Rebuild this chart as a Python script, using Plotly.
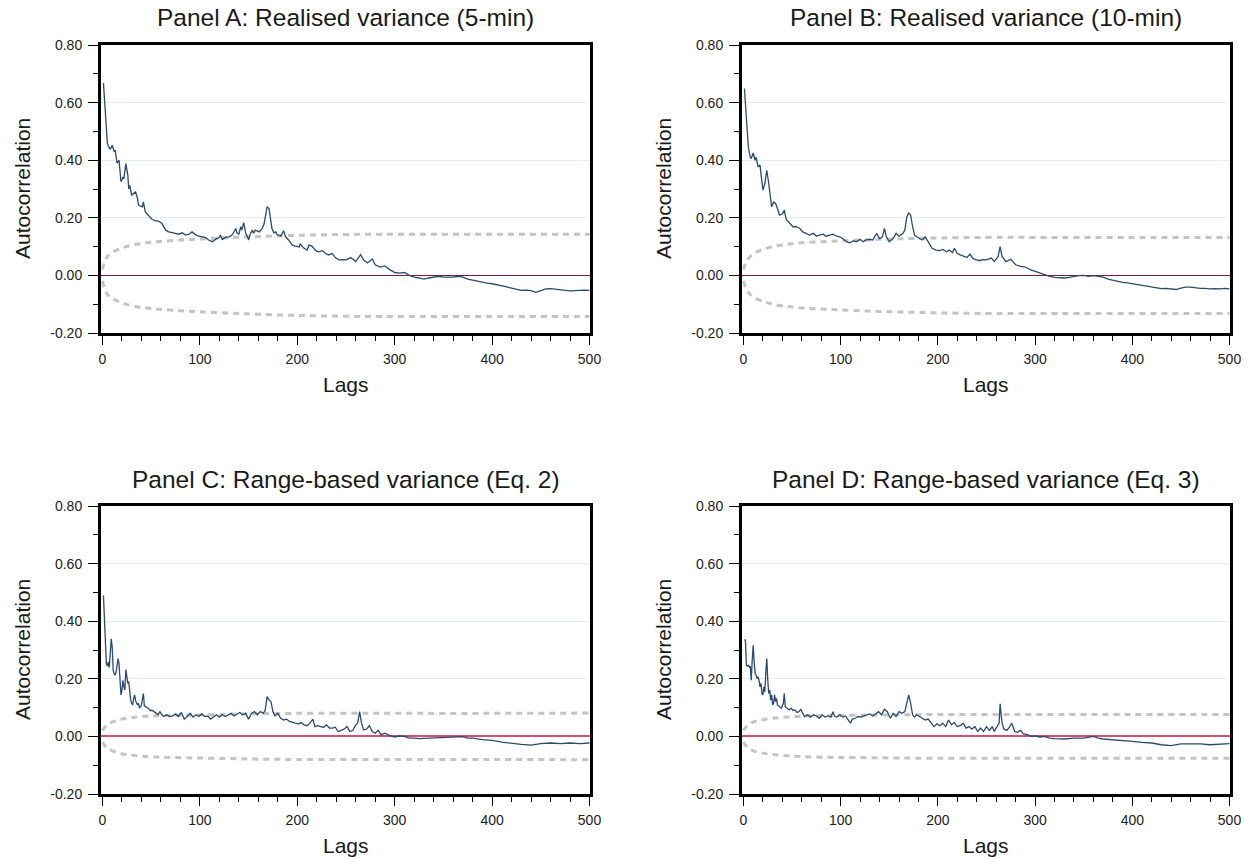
import plotly.graph_objects as go

# ---------------- data ----------------
lags_a = [1, 3, 5, 6, 8, 10, 12, 13, 15, 17, 18, 19, 21, 22, 24, 26, 27, 28, 30, 32, 34, 36, 37, 41, 42, 44,
          48, 51, 54, 58, 61, 65, 68, 72, 75, 78, 82, 85, 89, 92, 96, 99, 102, 106, 109, 113, 116, 120, 121,
          123, 126, 130, 133, 137, 138, 140, 142, 143, 145, 147, 149, 150, 152, 154, 155, 157, 161, 164, 166,
          167, 169, 171, 173, 174, 176, 178, 179, 183, 186, 188, 191, 195, 198, 202, 203, 207, 210, 212, 215,
          219, 222, 226, 229, 232, 236, 239, 243, 246, 250, 253, 255, 260, 265, 268, 272, 277, 280, 285, 290,
          295, 300, 305, 310, 315, 320, 325, 330, 335, 340, 345, 350, 355, 360, 365, 370, 375, 380, 385, 390,
          395, 400, 405, 410, 415, 420, 425, 430, 435, 440, 445, 450, 455, 460, 465, 470, 475, 480, 485, 490,
          495, 500]
acf_a = [0.668, 0.57, 0.46, 0.45, 0.437, 0.452, 0.43, 0.435, 0.39, 0.40, 0.365, 0.325, 0.34, 0.336, 0.388,
         0.348, 0.30, 0.313, 0.279, 0.284, 0.29, 0.267, 0.244, 0.238, 0.255, 0.22, 0.203, 0.194, 0.19, 0.188,
         0.18, 0.157, 0.151, 0.149, 0.146, 0.143, 0.148, 0.14, 0.143, 0.151, 0.14, 0.136, 0.134, 0.131, 0.123,
         0.117, 0.125, 0.132, 0.14, 0.125, 0.132, 0.134, 0.14, 0.163, 0.148, 0.143, 0.169, 0.157, 0.183, 0.146,
         0.134, 0.123, 0.146, 0.157, 0.146, 0.157, 0.151, 0.163, 0.18, 0.203, 0.238, 0.232, 0.192, 0.163,
         0.148, 0.151, 0.143, 0.136, 0.155, 0.134, 0.123, 0.105, 0.102, 0.099, 0.109, 0.094, 0.088, 0.105,
         0.102, 0.086, 0.082, 0.086, 0.076, 0.071, 0.076, 0.062, 0.053, 0.055, 0.054, 0.06, 0.062, 0.048,
         0.072, 0.054, 0.043, 0.057, 0.037, 0.029, 0.033, 0.020, 0.010, 0.008, 0.010, 0.0, -0.006, -0.009,
         -0.013, -0.009, -0.006, -0.003, -0.006, -0.007, -0.006, -0.003, -0.006, -0.013, -0.017, -0.021,
         -0.024, -0.027, -0.029, -0.032, -0.036, -0.040, -0.044, -0.047, -0.052, -0.051, -0.053, -0.059,
         -0.052, -0.047, -0.046, -0.048, -0.050, -0.052, -0.054, -0.053, -0.051, -0.051, -0.052]

lags_b = [1, 3, 5, 7, 8, 10, 12, 13, 15, 17, 18, 20, 22, 24, 26, 27, 29, 31, 33, 35, 37, 40, 42, 44, 48, 51,
          54, 58, 61, 65, 68, 72, 75, 78, 82, 85, 89, 92, 96, 99, 102, 106, 109, 113, 116, 120, 123, 126, 130,
          133, 137, 140, 143, 145, 147, 150, 154, 157, 160, 164, 166, 168, 170, 172, 174, 176, 178, 181, 184,
          187, 190, 194, 198, 202, 205, 209, 212, 215, 217, 220, 223, 226, 230, 233, 236, 239, 243, 246, 250,
          255, 258, 262, 264, 266, 270, 275, 280, 285, 290, 295, 300, 305, 310, 315, 320, 325, 330, 335, 340,
          345, 350, 355, 360, 365, 370, 375, 380, 385, 390, 395, 400, 405, 410, 415, 420, 425, 430, 435, 440,
          445, 450, 455, 460, 465, 470, 475, 480, 485, 490, 495, 500]
acf_b = [0.649, 0.55, 0.446, 0.41, 0.406, 0.425, 0.40, 0.41, 0.377, 0.383, 0.354, 0.296, 0.319, 0.365, 0.319,
         0.284, 0.238, 0.255, 0.25, 0.232, 0.209, 0.213, 0.227, 0.194, 0.18, 0.169, 0.169, 0.163, 0.151,
         0.146, 0.140, 0.146, 0.136, 0.140, 0.143, 0.136, 0.140, 0.143, 0.136, 0.134, 0.128, 0.117, 0.113,
         0.12, 0.117, 0.125, 0.117, 0.123, 0.125, 0.123, 0.146, 0.128, 0.134, 0.163, 0.134, 0.117, 0.128,
         0.146, 0.136, 0.146, 0.157, 0.203, 0.217, 0.209, 0.169, 0.140, 0.134, 0.128, 0.123, 0.134, 0.117,
         0.094, 0.088, 0.086, 0.090, 0.082, 0.088, 0.079, 0.094, 0.076, 0.071, 0.067, 0.062, 0.074, 0.059,
         0.055, 0.051, 0.055, 0.054, 0.06, 0.048, 0.066, 0.10, 0.066, 0.048, 0.056, 0.037, 0.031, 0.029,
         0.020, 0.014, 0.008, 0.002, -0.003, -0.007, -0.009, -0.009, -0.007, -0.003, -0.001, 0.0, -0.003,
         -0.001, -0.003, -0.006, -0.013, -0.017, -0.021, -0.024, -0.026, -0.029, -0.032, -0.036, -0.038,
         -0.040, -0.044, -0.046, -0.045, -0.047, -0.049, -0.044, -0.041, -0.041, -0.044, -0.045, -0.045,
         -0.047, -0.046, -0.047, -0.045, -0.047]

lags_c = [1, 2, 3, 4, 5, 6, 7, 8, 9, 10, 11, 12, 13, 14, 15, 16, 17, 18, 19, 20, 21, 22, 23, 24, 25, 26, 27,
          28, 29, 30, 31, 32, 33, 34, 35, 36, 37, 38, 40, 42, 43, 45, 47, 49, 51, 53, 55, 57, 59, 61, 63, 66,
          69, 72, 75, 78, 81, 84, 87, 90, 93, 96, 99, 102, 105, 108, 111, 114, 117, 120, 123, 126, 129, 132,
          135, 138, 141, 144, 147, 150, 153, 156, 159, 162, 165, 167, 169, 171, 173, 175, 177, 180, 183, 186,
          189, 192, 195, 198, 201, 204, 207, 210, 213, 216, 218, 221, 224, 227, 230, 233, 236, 239, 242, 245,
          248, 251, 254, 257, 260, 262, 264, 266, 268, 271, 274, 277, 280, 283, 286, 290, 295, 300, 305, 310,
          315, 320, 325, 330, 340, 350, 360, 370, 375, 380, 390, 400, 410, 420, 430, 440, 450, 460, 470, 480,
          490, 500]
acf_c = [0.489, 0.414, 0.333, 0.253, 0.244, 0.259, 0.239, 0.276, 0.339, 0.31, 0.23, 0.218, 0.213, 0.224,
         0.241, 0.27, 0.253, 0.207, 0.144, 0.161, 0.195, 0.172, 0.161, 0.232, 0.207, 0.184, 0.19, 0.149,
         0.126, 0.115, 0.109, 0.132, 0.144, 0.124, 0.117, 0.109, 0.115, 0.098, 0.109, 0.149, 0.106, 0.103,
         0.098, 0.09, 0.09, 0.086, 0.08, 0.075, 0.086, 0.075, 0.069, 0.075, 0.069, 0.071, 0.078, 0.069, 0.083,
         0.06, 0.069, 0.08, 0.067, 0.075, 0.069, 0.078, 0.069, 0.071, 0.06, 0.069, 0.075, 0.067, 0.075, 0.069,
         0.075, 0.08, 0.071, 0.078, 0.083, 0.075, 0.08, 0.06, 0.08, 0.086, 0.075, 0.086, 0.08, 0.09, 0.138,
         0.126, 0.121, 0.086, 0.071, 0.08, 0.063, 0.057, 0.06, 0.052, 0.048, 0.046, 0.044, 0.048, 0.04, 0.037,
         0.046, 0.06, 0.034, 0.037, 0.034, 0.032, 0.04, 0.029, 0.029, 0.032, 0.017, 0.021, 0.025, 0.034,
         0.017, 0.021, 0.040, 0.046, 0.086, 0.046, 0.023, 0.025, 0.037, 0.017, 0.011, 0.021, 0.006, 0.011,
         0.003, -0.002, 0.002, 0.0, -0.006, -0.006, -0.008, -0.007, -0.006, -0.005, -0.002, -0.001, -0.006,
         -0.006, -0.011, -0.014, -0.02, -0.025, -0.028, -0.03, -0.025, -0.023, -0.025, -0.023, -0.025, -0.023]

lags_d = [1, 2, 3, 4, 5, 6, 7, 8, 9, 10, 11, 12, 13, 14, 15, 16, 17, 18, 19, 20, 21, 22, 23, 24, 25, 26, 27,
          28, 29, 30, 31, 32, 33, 34, 35, 37, 39, 41, 42, 43, 45, 47, 49, 51, 53, 55, 57, 59, 61, 63, 66, 69,
          72, 75, 78, 81, 84, 87, 90, 92, 94, 96, 99, 102, 105, 108, 110, 112, 115, 118, 121, 124, 127, 130,
          133, 136, 139, 142, 145, 148, 151, 154, 157, 160, 163, 166, 168, 170, 172, 174, 176, 178, 181, 184,
          187, 190, 193, 196, 199, 202, 205, 208, 211, 214, 217, 220, 223, 226, 229, 232, 235, 238, 241, 244,
          247, 250, 253, 256, 258, 261, 263, 264, 266, 268, 271, 274, 276, 279, 282, 285, 288, 292, 296, 300,
          305, 310, 315, 320, 330, 340, 350, 360, 365, 370, 380, 390, 400, 410, 420, 430, 440, 450, 460, 470,
          480, 490, 500]
acf_d = [0.333, 0.336, 0.247, 0.244, 0.247, 0.241, 0.244, 0.195, 0.264, 0.316, 0.259, 0.218, 0.213, 0.201,
         0.207, 0.195, 0.172, 0.184, 0.149, 0.144, 0.172, 0.155, 0.224, 0.27, 0.195, 0.149, 0.161, 0.126,
         0.144, 0.109, 0.115, 0.144, 0.121, 0.132, 0.109, 0.103, 0.098, 0.115, 0.149, 0.103, 0.098, 0.092,
         0.098, 0.09, 0.092, 0.083, 0.086, 0.094, 0.08, 0.069, 0.075, 0.067, 0.075, 0.071, 0.063, 0.075, 0.067,
         0.071, 0.067, 0.086, 0.069, 0.067, 0.075, 0.067, 0.071, 0.057, 0.046, 0.06, 0.063, 0.069, 0.067,
         0.071, 0.075, 0.078, 0.071, 0.08, 0.086, 0.075, 0.094, 0.086, 0.063, 0.08, 0.069, 0.086, 0.08, 0.086,
         0.115, 0.144, 0.115, 0.075, 0.067, 0.075, 0.069, 0.063, 0.057, 0.06, 0.046, 0.034, 0.044, 0.037,
         0.046, 0.034, 0.057, 0.04, 0.048, 0.034, 0.037, 0.046, 0.029, 0.034, 0.025, 0.034, 0.017, 0.029,
         0.017, 0.034, 0.021, 0.034, 0.017, 0.034, 0.046, 0.113, 0.046, 0.025, 0.021, 0.034, 0.046, 0.017,
         0.014, 0.021, 0.009, 0.006, 0.0, 0.002, -0.002, 0.0, -0.006, -0.008, -0.009, -0.006, -0.006, 0.0,
         -0.006, -0.009, -0.011, -0.014, -0.017, -0.021, -0.023, -0.029, -0.032, -0.026, -0.025, -0.026,
         -0.029, -0.026, -0.025]

# confidence-band half widths (upper band; lower band is its mirror image)
band_lags = [0, 2, 5, 10, 20, 30, 45, 60, 80, 100, 130, 160, 200, 250, 300, 400, 500]
band_a = [0.02, 0.045, 0.065, 0.08, 0.095, 0.105, 0.113, 0.118, 0.123, 0.126, 0.131, 0.135, 0.139, 0.142,
          0.143, 0.143, 0.143]
band_b = [0.02, 0.04, 0.058, 0.075, 0.09, 0.10, 0.108, 0.113, 0.117, 0.12, 0.124, 0.127, 0.13, 0.132,
          0.132, 0.132, 0.132]
band_c = [0.02, 0.03, 0.04, 0.05, 0.06, 0.065, 0.07, 0.072, 0.074, 0.075, 0.077, 0.079, 0.08, 0.08, 0.08,
          0.08, 0.081]
band_d = [0.02, 0.03, 0.04, 0.05, 0.058, 0.063, 0.067, 0.07, 0.072, 0.073, 0.074, 0.075, 0.076, 0.076,
          0.076, 0.076, 0.076]

panel_titles = ["Panel A: Realised variance (5-min)", "Panel B: Realised variance (10-min)",
                "Panel C: Range-based variance (Eq. 2)", "Panel D: Range-based variance (Eq. 3)"]
y_tickvals = [-0.2, 0.0, 0.2, 0.4, 0.6, 0.8]
y_ticktext = ["-0.20", "0.00", "0.20", "0.40", "0.60", "0.80"]
x_tickvals = [0, 100, 200, 300, 400, 500]
x_ticktext = ["0", "100", "200", "300", "400", "500"]
x_title = "Lags"
y_title = "Autocorrelation"

# ---------------- figure ----------------
W, H = 1252, 860
FONT = "Arial, 'Liberation Sans', sans-serif"
LINE_COLOR = "#2b4a6e"
BAND_COLOR = "#c4c4c4"

# frame boxes in page pixels: (left, right), (top, bottom)
panels = [
    (lags_a, acf_a, band_a, (101, 590), (45, 333), "#7d1c3a", 1.3),
    (lags_b, acf_b, band_b, (742, 1230), (45, 333), "#7d1c3a", 1.3),
    (lags_c, acf_c, band_c, (101, 590), (506, 794), "#dc4b70", 2.0),
    (lags_d, acf_d, band_d, (742, 1230), (506, 794), "#dc4b70", 2.0),
]


def px(xp):
    return xp / W


def py(yp):
    return 1 - yp / H


fig = go.Figure()
annotations = []
layout_axes = {}
for i, (lg, ac, bd, (x0, x1), (y0, y1), zcol, zw) in enumerate(panels):
    n = "" if i == 0 else str(i + 1)
    xa, ya = "x" + n, "y" + n
    fig.add_trace(go.Scatter(x=band_lags, y=bd, mode="lines", xaxis=xa, yaxis=ya,
                             line=dict(color=BAND_COLOR, width=3, dash="6px,5px", shape="spline"),
                             hoverinfo="skip", showlegend=False))
    fig.add_trace(go.Scatter(x=band_lags, y=[-v for v in bd], mode="lines", xaxis=xa, yaxis=ya,
                             line=dict(color=BAND_COLOR, width=3, dash="6px,5px", shape="spline"),
                             hoverinfo="skip", showlegend=False))
    fig.add_trace(go.Scatter(x=lg, y=ac, mode="lines", xaxis=xa, yaxis=ya,
                             line=dict(color=LINE_COLOR, width=1.3), showlegend=False))
    layout_axes["xaxis" + n] = dict(
        domain=[px(x0), px(x1)], anchor=ya, range=[-1.5, 500.5], showgrid=False, zeroline=False,
        automargin=False,
        tickvals=x_tickvals, ticktext=x_ticktext, ticks="outside", ticklen=9, tickwidth=1,
        tickcolor="black", showline=True, linewidth=3, linecolor="black", mirror=True,
        ticklabelstandoff=2,
        tickfont=dict(family=FONT, size=14, color="#222"),
        minor=dict(ticks="outside", ticklen=5, tickwidth=1, tickcolor="black", dtick=20, tick0=0,
                   showgrid=False))
    layout_axes["yaxis" + n] = dict(
        domain=[py(y1), py(y0)], anchor=xa, range=[-0.2, 0.8], showgrid=True, gridcolor="#e3eef0",
        gridwidth=1, zeroline=True, zerolinecolor=zcol, zerolinewidth=zw, automargin=False,
        tickvals=y_tickvals, ticktext=y_ticktext, ticks="outside", ticklen=10, tickwidth=1,
        tickcolor="black", showline=True, linewidth=3, linecolor="black", mirror=True,
        ticklabelstandoff=3,
        tickfont=dict(family=FONT, size=14, color="#222"),
        minor=dict(ticks="outside", ticklen=5, tickwidth=1, tickcolor="black", dtick=0.1, tick0=0,
                   showgrid=False))
    cx = px((x0 + x1) / 2)
    annotations.append(dict(text=panel_titles[i], x=cx, y=py(y0 - 27), xref="paper", yref="paper",
                            showarrow=False, xanchor="center", yanchor="middle",
                            font=dict(family=FONT, size=24.5, color="#1a1a1a")))
    annotations.append(dict(text=x_title, x=cx, y=py(y1 + 51), xref="paper", yref="paper",
                            showarrow=False, xanchor="center", yanchor="middle",
                            font=dict(family=FONT, size=21, color="#1a1a1a")))
    annotations.append(dict(text=y_title, x=px(x0 - 79), y=py((y0 + y1) / 2), xref="paper",
                            yref="paper", showarrow=False, textangle=-90, xanchor="center",
                            yanchor="middle", font=dict(family=FONT, size=21, color="#1a1a1a")))

fig.update_layout(width=W, height=H, margin=dict(l=0, r=0, t=0, b=0), plot_bgcolor="white",
                  paper_bgcolor="white", annotations=annotations, showlegend=False,
                  hovermode=False, **layout_axes)

# remove the browser's default 8px body margin so the figure fills the window exactly
fig.write_html("out.html", config={"displayModeBar": False, "staticPlot": True},
               post_script="document.body.style.margin='0px';")
